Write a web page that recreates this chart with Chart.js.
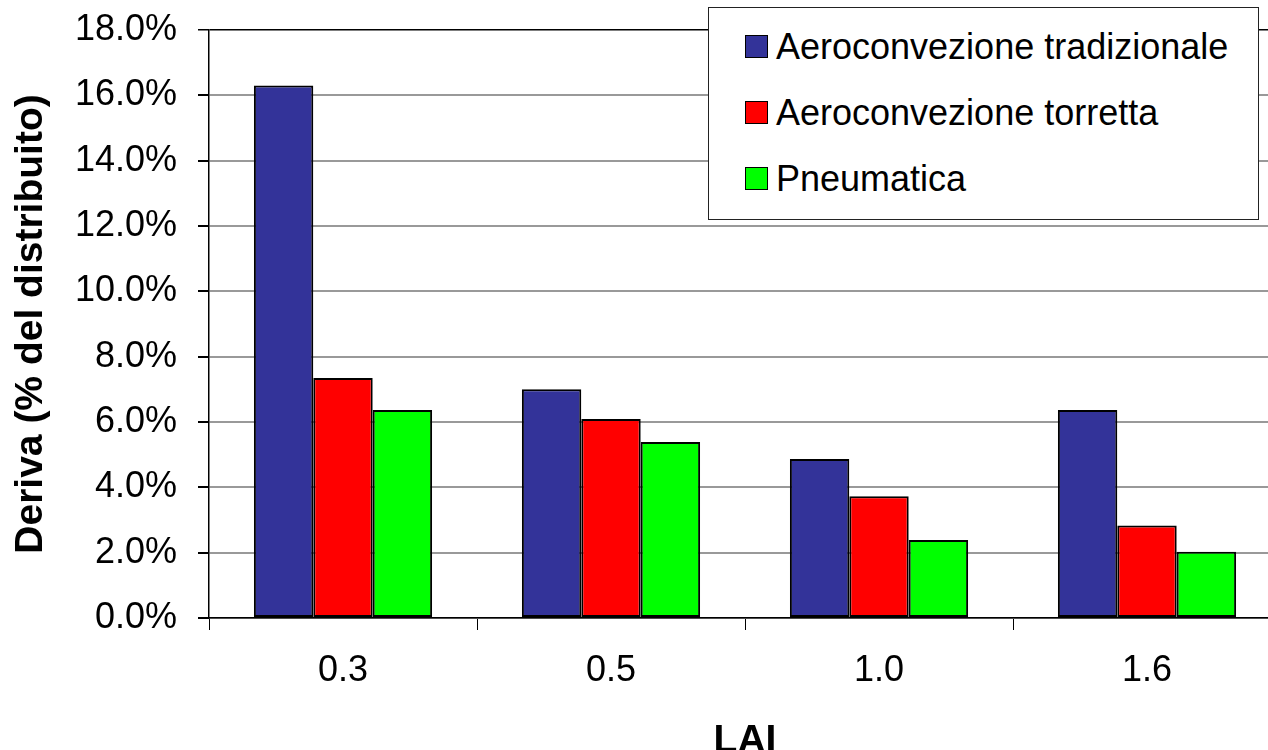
<!DOCTYPE html>
<html lang="it">
<head>
  <meta charset="UTF-8">
  <title>Deriva - LAI</title>
  <script src="https://cdn.jsdelivr.net/npm/chart.js@4/dist/chart.umd.min.js"></script>
  <style>
    html, body { margin: 0; padding: 0; background: #fff; overflow: hidden; }
    #wrap { position: relative; width: 1285px; height: 765px; }
    #legend {
      position: absolute; left: 708px; top: 7px; width: 551px; height: 213px;
      background: #fff; border: 1.5px solid #222; box-sizing: border-box;
      font-family: "Liberation Sans", Arial, sans-serif; font-size: 36px; color: #000;
    }
    #legend .item { position: absolute; left: 36px; height: 40px; line-height: 40px; white-space: nowrap; }
    #legend .box { display: inline-block; width: 21px; height: 21px; border: 1.5px solid #000; vertical-align: middle; margin-right: 8px; position: relative; top: -3px; }
  </style>
</head>
<body>
<div id="wrap">
  <canvas id="chart"></canvas>
  <div id="legend"></div>
</div>

<script>
  // values (% of sprayed product)
  const lai = ['0.3', '0.5', '1.0', '1.6'];
  const seriesNames = ['Aeroconvezione tradizionale', 'Aeroconvezione torretta', 'Pneumatica'];
  const tradizionale = [16.3, 7.0, 4.87, 6.37];
  const torretta = [7.35, 6.09, 3.73, 2.83];
  const pneumatica = [6.37, 5.39, 2.39, 2.03];
  const colors = ['#333399', '#ff0000', '#00ff00'];

  const font = '"Liberation Sans", Arial, sans-serif';
  const values = [tradizionale, torretta, pneumatica];

  const datasets = seriesNames.map((name, i) => ({
    label: name,
    data: values[i],
    backgroundColor: colors[i],
    borderColor: '#000',
    borderWidth: 2,
    borderSkipped: false,
    categoryPercentage: 0.665,
    barPercentage: 1.0
  }));

  new Chart(document.getElementById('chart'), {
    type: 'bar',
    data: { labels: lai, datasets },
    options: {
      responsive: true,
      maintainAspectRatio: false,
      animation: false,
      layout: { padding: { top: 30, right: 4, left: 0, bottom: 0 } },
      plugins: { legend: { display: false }, tooltip: { enabled: false } },
      scales: {
        x: {
          afterFit: s => { s.height = 147; },
          grid: { drawOnChartArea: false, drawTicks: true, tickLength: 12, tickColor: '#000', offset: true },
          border: { color: '#000', width: 1.5 },
          ticks: { color: '#000', font: { family: font, size: 36 }, padding: 19 },
          title: { display: true, text: 'LAI', color: '#000', font: { family: font, size: 39, weight: 'bold' }, padding: { top: 0, bottom: 0 } }
        },
        y: {
          min: 0, max: 18,
          // fixed axis width; drop the extra top/bottom room Chart.js reserves for the labels
          afterFit: s => { s.width = 209; s.paddingTop = 0; s.paddingBottom = 0; },
          grid: {
            color: c => c.tick && c.tick.value === 18 ? '#000' : '#999999',
            lineWidth: c => c.tick && c.tick.value === 18 ? 1.5 : 2,
            tickColor: '#000', tickLength: 11
          },
          border: { color: '#000', width: 1.5 },
          ticks: {
            stepSize: 2, color: '#000', padding: 21,
            font: { family: font, size: 36 },
            callback: v => v.toFixed(1) + '%'
          },
          title: { display: true, text: 'Deriva (% del distribuito)', color: '#000', font: { family: font, size: 39, weight: 'bold' }, padding: { top: 8, bottom: 0 } }
        }
      }
    }
  });

  // legend box drawn over the plot, as in the original
  const legend = document.getElementById('legend');
  seriesNames.forEach((name, i) => {
    const row = document.createElement('div');
    row.className = 'item';
    row.style.top = (19 + i * 66) + 'px';
    row.innerHTML = '<span class="box" style="background:' + colors[i] + '"></span>' + name;
    legend.appendChild(row);
  });
</script>
</body>
</html>
